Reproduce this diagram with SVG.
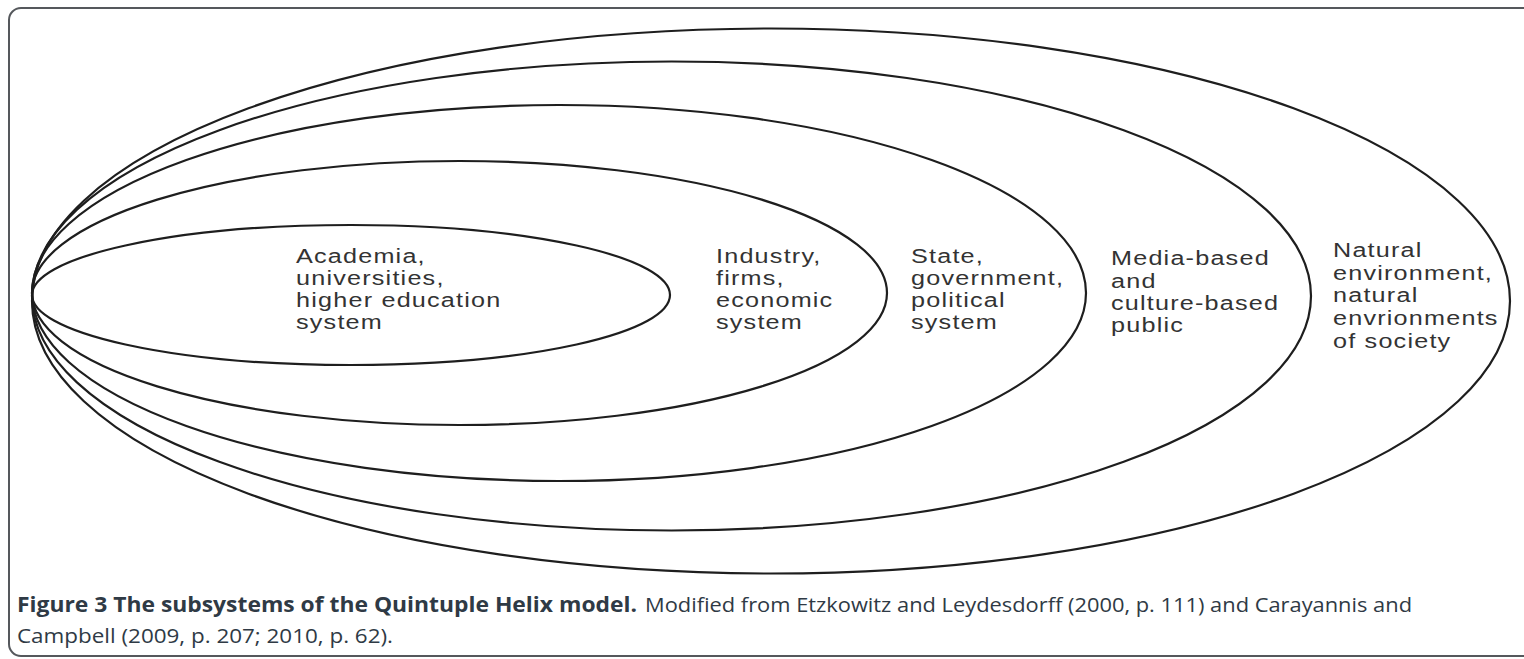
<svg xmlns="http://www.w3.org/2000/svg" width="1524" height="659" viewBox="0 0 1524 659">
<style>
.frame{fill:none;stroke:#55585c;stroke-width:2}
.ring{fill:none;stroke:#1e1e1e;stroke-width:2.2}
.lbl{font-family:"Liberation Sans",Arial,sans-serif;font-size:21px;letter-spacing:1px;fill:#333}
.cap{font-family:"Open Sans","Noto Sans",sans-serif;font-size:20.5px;fill:#2f3a45}
.capb{font-weight:bold}
</style>
<rect width="1524" height="659" fill="#fff"/>
<rect class="frame" x="9" y="8" width="1540" height="648" rx="12"/>
<g id="connectors"></g>
<g id="natural">
<ellipse class="ring" cx="771" cy="301" rx="739" ry="272.5"/>
<text class="lbl" transform="translate(1333,0) scale(1.2,1)"><tspan x="0" y="257">Natural</tspan><tspan x="0" y="280">environment,</tspan><tspan x="0" y="302">natural</tspan><tspan x="0" y="325">envrionments</tspan><tspan x="0" y="348">of society</tspan></text>
</g>
<g id="media">
<ellipse class="ring" cx="671.5" cy="296" rx="639.5" ry="234.5"/>
<text class="lbl" transform="translate(1111,0) scale(1.2,1)"><tspan x="0" y="265">Media-based</tspan><tspan x="0" y="288">and</tspan><tspan x="0" y="310">culture-based</tspan><tspan x="0" y="332">public</tspan></text>
</g>
<g id="state">
<ellipse class="ring" cx="559" cy="293" rx="527" ry="188"/>
<text class="lbl" transform="translate(911,0) scale(1.2,1)"><tspan x="0" y="263">State,</tspan><tspan x="0" y="285">government,</tspan><tspan x="0" y="307">political</tspan><tspan x="0" y="329">system</tspan></text>
</g>
<g id="industry">
<ellipse class="ring" cx="459.5" cy="293" rx="427.5" ry="132"/>
<text class="lbl" transform="translate(716,0) scale(1.2,1)"><tspan x="0" y="263">Industry,</tspan><tspan x="0" y="285">firms,</tspan><tspan x="0" y="307">economic</tspan><tspan x="0" y="329">system</tspan></text>
</g>
<g id="academia">
<ellipse class="ring" cx="351" cy="295" rx="319" ry="70"/>
<text class="lbl" transform="translate(296,0) scale(1.2,1)"><tspan x="0" y="263">Academia,</tspan><tspan x="0" y="285">universities,</tspan><tspan x="0" y="307">higher education</tspan><tspan x="0" y="329">system</tspan></text>
</g>
<g id="caption">
<text class="cap capb" x="17" y="612" textLength="620" lengthAdjust="spacingAndGlyphs">Figure 3 The subsystems of the Quintuple Helix model.</text>
<text class="cap" x="645" y="612" textLength="767" lengthAdjust="spacingAndGlyphs">Modified from Etzkowitz and Leydesdorff (2000, p. 111) and Carayannis and</text>
<text class="cap" x="17" y="643" textLength="376" lengthAdjust="spacingAndGlyphs">Campbell (2009, p. 207; 2010, p. 62).</text>
</g>
</svg>
